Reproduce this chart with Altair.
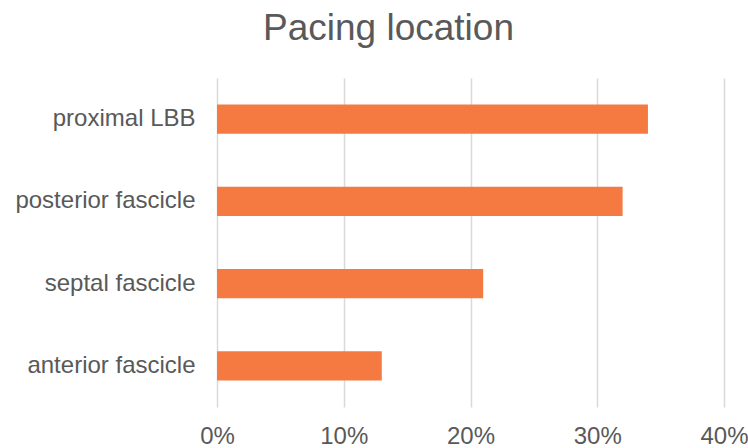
import altair as alt
import pandas as pd

# Share of patients by pacing location
locations = ["proximal LBB", "posterior fascicle", "septal fascicle", "anterior fascicle"]
shares = [0.34, 0.32, 0.21, 0.13]

df = pd.DataFrame({"location": locations, "share": shares})

FONT = "Liberation Sans"
TEXT = "#595959"

chart = (
    alt.Chart(df)
    .mark_bar(color="#F47A42")
    .encode(
        x=alt.X(
            "share:Q",
            scale=alt.Scale(domain=[0, 0.4], nice=False),
            axis=alt.Axis(
                format="%",
                values=[0, 0.1, 0.2, 0.3, 0.4],
                title=None,
                domain=False,
                ticks=False,
                grid=True,
                gridColor="#d9d9d9",
                gridWidth=1.5,
                labelFont=FONT,
                labelFontSize=24,
                labelColor=TEXT,
                labelPadding=17,
                labelFlush=False,
            ),
        ),
        y=alt.Y(
            "location:N",
            sort=locations,
            scale=alt.Scale(paddingInner=0.647, paddingOuter=0.3235),
            axis=alt.Axis(
                title=None,
                domain=False,
                ticks=False,
                grid=False,
                labelFont=FONT,
                labelFontSize=24,
                labelColor=TEXT,
                labelPadding=22,
                labelLimit=300,
            ),
        ),
    )
    .properties(
        width=507,
        height=329,
        title=alt.TitleParams(
            "Pacing location",
            font=FONT,
            fontSize=37,
            fontWeight="normal",
            color=TEXT,
            anchor="middle",
            dx=-82,
            offset=30,
        ),
        autosize=alt.AutoSizeParams(type="none"),
        padding={"left": 217, "top": 78, "right": 24, "bottom": 41},
    )
    .configure_view(stroke=None)
)

chart.save("out.html", embed_options={"renderer": "svg", "actions": False})
